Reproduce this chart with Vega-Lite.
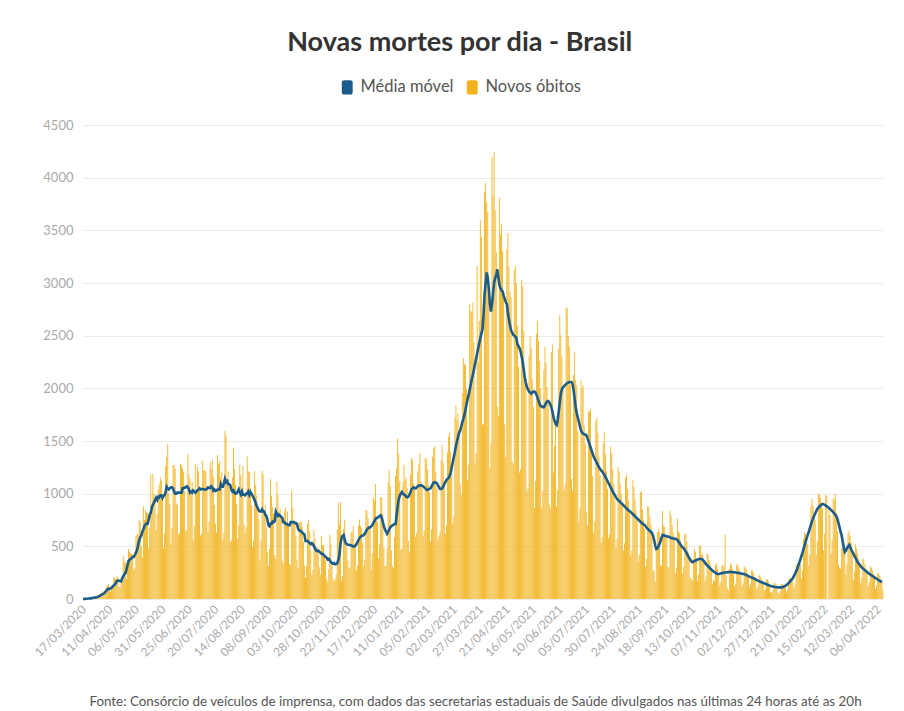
{
"$schema":"https://vega.github.io/schema/vega-lite/v6.json",
"width":800,"height":474,
"padding":{"left":32,"top":29,"right":25,"bottom":8},
"background":"white",
"title":{"text":"Novas mortes por dia - Brasil","font":"Lato","fontSize":27,"fontWeight":"bold","color":"#333333","anchor":"middle","frame":"bounds","offset":22},
"config":{"view":{"stroke":null},"font":"Lato"},
"data":{"values":[
{"d":"2020-03-17","v":1,"m":0},{"d":"2020-03-18","v":3,"m":1},{"d":"2020-03-19","v":3,"m":1},{"d":"2020-03-20","v":4,"m":2},{"d":"2020-03-21","v":7,"m":3},{"d":"2020-03-22","v":7,"m":4},{"d":"2020-03-23","v":9,"m":5},{"d":"2020-03-24","v":12,"m":6},{"d":"2020-03-25","v":11,"m":8},{"d":"2020-03-26","v":20,"m":9},{"d":"2020-03-27","v":15,"m":11},{"d":"2020-03-28","v":22,"m":13},{"d":"2020-03-29","v":22,"m":15},{"d":"2020-03-30","v":23,"m":17},{"d":"2020-03-31","v":42,"m":21},
{"d":"2020-04-01","v":40,"m":25},{"d":"2020-04-02","v":58,"m":31},{"d":"2020-04-03","v":60,"m":36},{"d":"2020-04-04","v":73,"m":44},{"d":"2020-04-05","v":54,"m":49},{"d":"2020-04-06","v":67,"m":54},{"d":"2020-04-07","v":114,"m":67},{"d":"2020-04-08","v":133,"m":78},{"d":"2020-04-09","v":141,"m":90},{"d":"2020-04-10","v":115,"m":96},{"d":"2020-04-11","v":68,"m":95},{"d":"2020-04-12","v":99,"m":101},{"d":"2020-04-13","v":105,"m":106},{"d":"2020-04-14","v":204,"m":119},{"d":"2020-04-15","v":204,"m":129},{"d":"2020-04-16","v":188,"m":137},{"d":"2020-04-17","v":217,"m":151},{"d":"2020-04-18","v":206,"m":171},{"d":"2020-04-19","v":115,"m":173},{"d":"2020-04-20","v":113,"m":174},{"d":"2020-04-21","v":166,"m":172},{"d":"2020-04-22","v":165,"m":168},{"d":"2020-04-23","v":407,"m":196},{"d":"2020-04-24","v":357,"m":216},{"d":"2020-04-25","v":346,"m":235},{"d":"2020-04-26","v":189,"m":245},{"d":"2020-04-27","v":338,"m":277},{"d":"2020-04-28","v":474,"m":321},{"d":"2020-04-29","v":449,"m":361},{"d":"2020-04-30","v":435,"m":372},
{"d":"2020-05-01","v":428,"m":380},{"d":"2020-05-02","v":421,"m":390},{"d":"2020-05-03","v":275,"m":400},{"d":"2020-05-04","v":296,"m":400},{"d":"2020-05-05","v":600,"m":420},{"d":"2020-05-06","v":615,"m":440},{"d":"2020-05-07","v":610,"m":465},{"d":"2020-05-08","v":751,"m":510},{"d":"2020-05-09","v":730,"m":555},{"d":"2020-05-10","v":496,"m":585},{"d":"2020-05-11","v":396,"m":600},{"d":"2020-05-12","v":881,"m":640},{"d":"2020-05-13","v":749,"m":660},{"d":"2020-05-14","v":844,"m":695},{"d":"2020-05-15","v":824,"m":705},{"d":"2020-05-16","v":816,"m":717},{"d":"2020-05-17","v":485,"m":715},{"d":"2020-05-18","v":674,"m":755},{"d":"2020-05-19","v":1179,"m":800},{"d":"2020-05-20","v":888,"m":820},{"d":"2020-05-21","v":1188,"m":870},{"d":"2020-05-22","v":1001,"m":895},{"d":"2020-05-23","v":965,"m":915},{"d":"2020-05-24","v":653,"m":940},{"d":"2020-05-25","v":807,"m":960},{"d":"2020-05-26","v":1039,"m":940},{"d":"2020-05-27","v":1086,"m":970},{"d":"2020-05-28","v":1156,"m":965},{"d":"2020-05-29","v":1124,"m":985},{"d":"2020-05-30","v":956,"m":985},{"d":"2020-05-31","v":480,"m":960},
{"d":"2020-06-01","v":623,"m":980},{"d":"2020-06-02","v":1262,"m":985},{"d":"2020-06-03","v":1349,"m":1020},{"d":"2020-06-04","v":1473,"m":1065},{"d":"2020-06-05","v":1005,"m":1050},{"d":"2020-06-06","v":904,"m":1040},{"d":"2020-06-07","v":525,"m":1050},{"d":"2020-06-08","v":679,"m":1060},{"d":"2020-06-09","v":1272,"m":1060},{"d":"2020-06-10","v":1274,"m":1050},{"d":"2020-06-11","v":1239,"m":1020},{"d":"2020-06-12","v":909,"m":1000},{"d":"2020-06-13","v":892,"m":1000},{"d":"2020-06-14","v":612,"m":1010},{"d":"2020-06-15","v":627,"m":1010},{"d":"2020-06-16","v":1282,"m":1010},{"d":"2020-06-17","v":1269,"m":1010},{"d":"2020-06-18","v":1238,"m":1010},{"d":"2020-06-19","v":1206,"m":1050},{"d":"2020-06-20","v":1022,"m":1050},{"d":"2020-06-21","v":641,"m":1060},{"d":"2020-06-22","v":654,"m":1060},{"d":"2020-06-23","v":1374,"m":1070},{"d":"2020-06-24","v":1185,"m":1060},{"d":"2020-06-25","v":1141,"m":1040},{"d":"2020-06-26","v":990,"m":1010},{"d":"2020-06-27","v":1109,"m":1020},{"d":"2020-06-28","v":552,"m":1010},{"d":"2020-06-29","v":692,"m":1030},{"d":"2020-06-30","v":1280,"m":1020},
{"d":"2020-07-01","v":1038,"m":1010},{"d":"2020-07-02","v":1252,"m":1020},{"d":"2020-07-03","v":1214,"m":1030},{"d":"2020-07-04","v":1071,"m":1040},{"d":"2020-07-05","v":602,"m":1050},{"d":"2020-07-06","v":620,"m":1040},{"d":"2020-07-07","v":1312,"m":1045},{"d":"2020-07-08","v":1223,"m":1045},{"d":"2020-07-09","v":1220,"m":1040},{"d":"2020-07-10","v":1214,"m":1040},{"d":"2020-07-11","v":1071,"m":1040},{"d":"2020-07-12","v":631,"m":1045},{"d":"2020-07-13","v":733,"m":1060},{"d":"2020-07-14","v":1300,"m":1055},{"d":"2020-07-15","v":1233,"m":1055},{"d":"2020-07-16","v":1322,"m":1070},{"d":"2020-07-17","v":1163,"m":1060},{"d":"2020-07-18","v":892,"m":1030},{"d":"2020-07-19","v":716,"m":1040},{"d":"2020-07-20","v":632,"m":1025},{"d":"2020-07-21","v":1367,"m":1030},{"d":"2020-07-22","v":1284,"m":1040},{"d":"2020-07-23","v":1311,"m":1040},{"d":"2020-07-24","v":1156,"m":1040},{"d":"2020-07-25","v":1211,"m":1090},{"d":"2020-07-26","v":555,"m":1065},{"d":"2020-07-27","v":627,"m":1065},{"d":"2020-07-28","v":1595,"m":1100},{"d":"2020-07-29","v":1554,"m":1140},{"d":"2020-07-30","v":1129,"m":1110},{"d":"2020-07-31","v":1212,"m":1120},
{"d":"2020-08-01","v":1088,"m":1090},{"d":"2020-08-02","v":541,"m":1090},{"d":"2020-08-03","v":561,"m":1080},{"d":"2020-08-04","v":1154,"m":1040},{"d":"2020-08-05","v":1437,"m":1020},{"d":"2020-08-06","v":1237,"m":1030},{"d":"2020-08-07","v":1079,"m":1010},{"d":"2020-08-08","v":905,"m":1000},{"d":"2020-08-09","v":572,"m":1005},{"d":"2020-08-10","v":703,"m":1020},{"d":"2020-08-11","v":1274,"m":1040},{"d":"2020-08-12","v":1175,"m":1010},{"d":"2020-08-13","v":1060,"m":990},{"d":"2020-08-14","v":1262,"m":1020},{"d":"2020-08-15","v":709,"m":990},{"d":"2020-08-16","v":620,"m":990},{"d":"2020-08-17","v":684,"m":985},{"d":"2020-08-18","v":1352,"m":1000},{"d":"2020-08-19","v":1212,"m":1000},{"d":"2020-08-20","v":1204,"m":1020},{"d":"2020-08-21","v":1054,"m":990},{"d":"2020-08-22","v":892,"m":1015},{"d":"2020-08-23","v":494,"m":1000},{"d":"2020-08-24","v":555,"m":980},{"d":"2020-08-25","v":1215,"m":960},{"d":"2020-08-26","v":1085,"m":940},{"d":"2020-08-27","v":984,"m":910},{"d":"2020-08-28","v":855,"m":880},{"d":"2020-08-29","v":758,"m":860},{"d":"2020-08-30","v":366,"m":840},{"d":"2020-08-31","v":553,"m":830},
{"d":"2020-09-01","v":1215,"m":830},{"d":"2020-09-02","v":1184,"m":850},{"d":"2020-09-03","v":834,"m":830},{"d":"2020-09-04","v":888,"m":830},{"d":"2020-09-05","v":682,"m":800},{"d":"2020-09-06","v":447,"m":790},{"d":"2020-09-07","v":310,"m":755},{"d":"2020-09-08","v":476,"m":700},{"d":"2020-09-09","v":1136,"m":690},{"d":"2020-09-10","v":983,"m":715},{"d":"2020-09-11","v":874,"m":715},{"d":"2020-09-12","v":814,"m":735},{"d":"2020-09-13","v":415,"m":730},{"d":"2020-09-14","v":381,"m":740},{"d":"2020-09-15","v":1113,"m":830},{"d":"2020-09-16","v":987,"m":810},{"d":"2020-09-17","v":829,"m":790},{"d":"2020-09-18","v":858,"m":800},{"d":"2020-09-19","v":761,"m":790},{"d":"2020-09-20","v":363,"m":780},{"d":"2020-09-21","v":335,"m":770},{"d":"2020-09-22","v":836,"m":730},{"d":"2020-09-23","v":869,"m":730},{"d":"2020-09-24","v":729,"m":715},{"d":"2020-09-25","v":831,"m":715},{"d":"2020-09-26","v":691,"m":705},{"d":"2020-09-27","v":335,"m":700},{"d":"2020-09-28","v":320,"m":700},{"d":"2020-09-29","v":1031,"m":730},{"d":"2020-09-30","v":863,"m":730},
{"d":"2020-10-01","v":729,"m":730},{"d":"2020-10-02","v":728,"m":730},{"d":"2020-10-03","v":599,"m":720},{"d":"2020-10-04","v":366,"m":720},{"d":"2020-10-05","v":293,"m":710},{"d":"2020-10-06","v":735,"m":670},{"d":"2020-10-07","v":734,"m":650},{"d":"2020-10-08","v":731,"m":650},{"d":"2020-10-09","v":683,"m":640},{"d":"2020-10-10","v":543,"m":630},{"d":"2020-10-11","v":318,"m":620},{"d":"2020-10-12","v":201,"m":610},{"d":"2020-10-13","v":309,"m":550},{"d":"2020-10-14","v":713,"m":550},{"d":"2020-10-15","v":754,"m":550},{"d":"2020-10-16","v":641,"m":540},{"d":"2020-10-17","v":461,"m":530},{"d":"2020-10-18","v":230,"m":520},{"d":"2020-10-19","v":275,"m":530},{"d":"2020-10-20","v":658,"m":520},{"d":"2020-10-21","v":571,"m":500},{"d":"2020-10-22","v":496,"m":480},{"d":"2020-10-23","v":492,"m":460},{"d":"2020-10-24","v":432,"m":455},{"d":"2020-10-25","v":301,"m":460},{"d":"2020-10-26","v":231,"m":450},{"d":"2020-10-27","v":597,"m":440},{"d":"2020-10-28","v":510,"m":430},{"d":"2020-10-29","v":513,"m":430},{"d":"2020-10-30","v":426,"m":420},{"d":"2020-10-31","v":369,"m":410},
{"d":"2020-11-01","v":190,"m":400},{"d":"2020-11-02","v":162,"m":390},{"d":"2020-11-03","v":282,"m":375},{"d":"2020-11-04","v":610,"m":380},{"d":"2020-11-05","v":526,"m":365},{"d":"2020-11-06","v":337,"m":350},{"d":"2020-11-07","v":192,"m":340},{"d":"2020-11-08","v":167,"m":335},{"d":"2020-11-09","v":188,"m":340},{"d":"2020-11-10","v":231,"m":330},{"d":"2020-11-11","v":658,"m":332},{"d":"2020-11-12","v":908,"m":340},{"d":"2020-11-13","v":716,"m":370},{"d":"2020-11-14","v":921,"m":420},{"d":"2020-11-15","v":175,"m":520},{"d":"2020-11-16","v":216,"m":580},{"d":"2020-11-17","v":665,"m":600},{"d":"2020-11-18","v":754,"m":608},{"d":"2020-11-19","v":560,"m":560},{"d":"2020-11-20","v":486,"m":530},{"d":"2020-11-21","v":365,"m":520},{"d":"2020-11-22","v":288,"m":515},{"d":"2020-11-23","v":302,"m":515},{"d":"2020-11-24","v":637,"m":513},{"d":"2020-11-25","v":630,"m":510},{"d":"2020-11-26","v":691,"m":505},{"d":"2020-11-27","v":525,"m":500},{"d":"2020-11-28","v":510,"m":500},{"d":"2020-11-29","v":272,"m":505},{"d":"2020-11-30","v":317,"m":520},
{"d":"2020-12-01","v":697,"m":540},{"d":"2020-12-02","v":755,"m":560},{"d":"2020-12-03","v":694,"m":580},{"d":"2020-12-04","v":672,"m":590},{"d":"2020-12-05","v":535,"m":600},{"d":"2020-12-06","v":313,"m":600},{"d":"2020-12-07","v":376,"m":610},{"d":"2020-12-08","v":842,"m":620},{"d":"2020-12-09","v":839,"m":640},{"d":"2020-12-10","v":770,"m":660},{"d":"2020-12-11","v":673,"m":670},{"d":"2020-12-12","v":686,"m":680},{"d":"2020-12-13","v":279,"m":680},{"d":"2020-12-14","v":433,"m":690},{"d":"2020-12-15","v":964,"m":700},{"d":"2020-12-16","v":936,"m":720},{"d":"2020-12-17","v":1092,"m":740},{"d":"2020-12-18","v":764,"m":760},{"d":"2020-12-19","v":728,"m":770},{"d":"2020-12-20","v":382,"m":770},{"d":"2020-12-21","v":523,"m":780},{"d":"2020-12-22","v":968,"m":790},{"d":"2020-12-23","v":963,"m":795},{"d":"2020-12-24","v":806,"m":770},{"d":"2020-12-25","v":484,"m":730},{"d":"2020-12-26","v":313,"m":690},{"d":"2020-12-27","v":316,"m":660},{"d":"2020-12-28","v":482,"m":640},{"d":"2020-12-29","v":1111,"m":620},{"d":"2020-12-30","v":1224,"m":640},{"d":"2020-12-31","v":1074,"m":660},
{"d":"2021-01-01","v":462,"m":680},{"d":"2021-01-02","v":314,"m":690},{"d":"2021-01-03","v":293,"m":700},{"d":"2021-01-04","v":589,"m":705},{"d":"2021-01-05","v":1171,"m":710},{"d":"2021-01-06","v":1242,"m":712},{"d":"2021-01-07","v":1524,"m":800},{"d":"2021-01-08","v":1379,"m":880},{"d":"2021-01-09","v":1119,"m":950},{"d":"2021-01-10","v":469,"m":980},{"d":"2021-01-11","v":480,"m":1000},{"d":"2021-01-12","v":1110,"m":1016},{"d":"2021-01-13","v":1274,"m":1000},{"d":"2021-01-14","v":1131,"m":990},{"d":"2021-01-15","v":1151,"m":985},{"d":"2021-01-16","v":1050,"m":970},{"d":"2021-01-17","v":551,"m":965},{"d":"2021-01-18","v":452,"m":970},{"d":"2021-01-19","v":1183,"m":990},{"d":"2021-01-20","v":1340,"m":1010},{"d":"2021-01-21","v":1316,"m":1040},{"d":"2021-01-22","v":1096,"m":1050},{"d":"2021-01-23","v":1054,"m":1060},{"d":"2021-01-24","v":592,"m":1055},{"d":"2021-01-25","v":627,"m":1050},{"d":"2021-01-26","v":1214,"m":1060},{"d":"2021-01-27","v":1283,"m":1070},{"d":"2021-01-28","v":1386,"m":1075},{"d":"2021-01-29","v":1119,"m":1080},{"d":"2021-01-30","v":1054,"m":1080},{"d":"2021-01-31","v":595,"m":1075},
{"d":"2021-02-01","v":650,"m":1070},{"d":"2021-02-02","v":1340,"m":1060},{"d":"2021-02-03","v":1330,"m":1050},{"d":"2021-02-04","v":1232,"m":1040},{"d":"2021-02-05","v":1080,"m":1035},{"d":"2021-02-06","v":1010,"m":1040},{"d":"2021-02-07","v":540,"m":1045},{"d":"2021-02-08","v":660,"m":1050},{"d":"2021-02-09","v":1350,"m":1070},{"d":"2021-02-10","v":1430,"m":1090},{"d":"2021-02-11","v":1450,"m":1105},{"d":"2021-02-12","v":1200,"m":1110},{"d":"2021-02-13","v":1050,"m":1105},{"d":"2021-02-14","v":560,"m":1100},{"d":"2021-02-15","v":600,"m":1080},{"d":"2021-02-16","v":640,"m":1060},{"d":"2021-02-17","v":1320,"m":1045},{"d":"2021-02-18","v":1460,"m":1045},{"d":"2021-02-19","v":1290,"m":1050},{"d":"2021-02-20","v":1120,"m":1070},{"d":"2021-02-21","v":620,"m":1090},{"d":"2021-02-22","v":700,"m":1110},{"d":"2021-02-23","v":1390,"m":1130},{"d":"2021-02-24","v":1540,"m":1140},{"d":"2021-02-25","v":1580,"m":1150},{"d":"2021-02-26","v":1400,"m":1170},{"d":"2021-02-27","v":1270,"m":1200},{"d":"2021-02-28","v":720,"m":1250},
{"d":"2021-03-01","v":780,"m":1300},{"d":"2021-03-02","v":1726,"m":1350},{"d":"2021-03-03","v":1840,"m":1400},{"d":"2021-03-04","v":1699,"m":1450},{"d":"2021-03-05","v":1760,"m":1500},{"d":"2021-03-06","v":1555,"m":1540},{"d":"2021-03-07","v":1086,"m":1580},{"d":"2021-03-08","v":987,"m":1600},{"d":"2021-03-09","v":1954,"m":1640},{"d":"2021-03-10","v":2286,"m":1680},{"d":"2021-03-11","v":2233,"m":1710},{"d":"2021-03-12","v":2216,"m":1750},{"d":"2021-03-13","v":1997,"m":1800},{"d":"2021-03-14","v":1129,"m":1850},{"d":"2021-03-15","v":1275,"m":1900},{"d":"2021-03-16","v":2798,"m":1940},{"d":"2021-03-17","v":2736,"m":1990},{"d":"2021-03-18","v":2724,"m":2040},{"d":"2021-03-19","v":2815,"m":2090},{"d":"2021-03-20","v":2438,"m":2130},{"d":"2021-03-21","v":1290,"m":2180},{"d":"2021-03-22","v":1383,"m":2230},{"d":"2021-03-23","v":3158,"m":2280},{"d":"2021-03-24","v":2244,"m":2330},{"d":"2021-03-25","v":2639,"m":2380},{"d":"2021-03-26","v":3600,"m":2430},{"d":"2021-03-27","v":3438,"m":2480},{"d":"2021-03-28","v":1656,"m":2520},{"d":"2021-03-29","v":1660,"m":2560},{"d":"2021-03-30","v":3869,"m":2700},{"d":"2021-03-31","v":3950,"m":2900},
{"d":"2021-04-01","v":3769,"m":3000},{"d":"2021-04-02","v":3673,"m":3100},{"d":"2021-04-03","v":2922,"m":3050},{"d":"2021-04-04","v":1240,"m":2950},{"d":"2021-04-05","v":1480,"m":2800},{"d":"2021-04-06","v":4195,"m":2730},{"d":"2021-04-07","v":3829,"m":2800},{"d":"2021-04-08","v":4249,"m":2900},{"d":"2021-04-09","v":3693,"m":3000},{"d":"2021-04-10","v":3293,"m":3050},{"d":"2021-04-11","v":1824,"m":3080},{"d":"2021-04-12","v":1738,"m":3130},{"d":"2021-04-13","v":3808,"m":3050},{"d":"2021-04-14","v":3459,"m":2980},{"d":"2021-04-15","v":3560,"m":2950},{"d":"2021-04-16","v":3305,"m":2930},{"d":"2021-04-17","v":2929,"m":2920},{"d":"2021-04-18","v":1657,"m":2880},{"d":"2021-04-19","v":1347,"m":2850},{"d":"2021-04-20","v":3321,"m":2820},{"d":"2021-04-21","v":3472,"m":2800},{"d":"2021-04-22","v":3157,"m":2720},{"d":"2021-04-23","v":2914,"m":2650},{"d":"2021-04-24","v":2865,"m":2600},{"d":"2021-04-25","v":1305,"m":2550},{"d":"2021-04-26","v":1279,"m":2530},{"d":"2021-04-27","v":3120,"m":2510},{"d":"2021-04-28","v":3163,"m":2500},{"d":"2021-04-29","v":3001,"m":2490},{"d":"2021-04-30","v":2595,"m":2480},
{"d":"2021-05-01","v":2206,"m":2420},{"d":"2021-05-02","v":1202,"m":2400},{"d":"2021-05-03","v":1232,"m":2380},{"d":"2021-05-04","v":3025,"m":2350},{"d":"2021-05-05","v":2966,"m":2300},{"d":"2021-05-06","v":2550,"m":2250},{"d":"2021-05-07","v":2202,"m":2170},{"d":"2021-05-08","v":2087,"m":2100},{"d":"2021-05-09","v":1024,"m":2050},{"d":"2021-05-10","v":1054,"m":2010},{"d":"2021-05-11","v":2311,"m":1990},{"d":"2021-05-12","v":2494,"m":1970},{"d":"2021-05-13","v":2383,"m":1960},{"d":"2021-05-14","v":2087,"m":1950},{"d":"2021-05-15","v":1824,"m":1960},{"d":"2021-05-16","v":865,"m":1970},{"d":"2021-05-17","v":1123,"m":1970},{"d":"2021-05-18","v":2517,"m":1960},{"d":"2021-05-19","v":2641,"m":1940},{"d":"2021-05-20","v":2451,"m":1910},{"d":"2021-05-21","v":2257,"m":1880},{"d":"2021-05-22","v":1997,"m":1850},{"d":"2021-05-23","v":860,"m":1830},{"d":"2021-05-24","v":1025,"m":1830},{"d":"2021-05-25","v":2173,"m":1820},{"d":"2021-05-26","v":2393,"m":1820},{"d":"2021-05-27","v":2245,"m":1840},{"d":"2021-05-28","v":2012,"m":1860},{"d":"2021-05-29","v":1867,"m":1875},{"d":"2021-05-30","v":900,"m":1880},{"d":"2021-05-31","v":860,"m":1870},
{"d":"2021-06-01","v":2346,"m":1850},{"d":"2021-06-02","v":2417,"m":1820},{"d":"2021-06-03","v":1202,"m":1780},{"d":"2021-06-04","v":1454,"m":1730},{"d":"2021-06-05","v":1689,"m":1690},{"d":"2021-06-06","v":878,"m":1660},{"d":"2021-06-07","v":1037,"m":1650},{"d":"2021-06-08","v":2378,"m":1700},{"d":"2021-06-09","v":2693,"m":1780},{"d":"2021-06-10","v":2504,"m":1870},{"d":"2021-06-11","v":2300,"m":1950},{"d":"2021-06-12","v":2000,"m":1994},{"d":"2021-06-13","v":1037,"m":2010},{"d":"2021-06-14","v":1090,"m":2020},{"d":"2021-06-15","v":2769,"m":2030},{"d":"2021-06-16","v":2760,"m":2040},{"d":"2021-06-17","v":2494,"m":2050},{"d":"2021-06-18","v":2400,"m":2055},{"d":"2021-06-19","v":2036,"m":2060},{"d":"2021-06-20","v":1139,"m":2060},{"d":"2021-06-21","v":1025,"m":2060},{"d":"2021-06-22","v":2127,"m":2040},{"d":"2021-06-23","v":2343,"m":1980},{"d":"2021-06-24","v":2081,"m":1900},{"d":"2021-06-25","v":2032,"m":1820},{"d":"2021-06-26","v":1593,"m":1760},{"d":"2021-06-27","v":739,"m":1720},{"d":"2021-06-28","v":862,"m":1680},{"d":"2021-06-29","v":2081,"m":1640},{"d":"2021-06-30","v":2001,"m":1600},
{"d":"2021-07-01","v":2029,"m":1580},{"d":"2021-07-02","v":1648,"m":1570},{"d":"2021-07-03","v":1476,"m":1565},{"d":"2021-07-04","v":830,"m":1560},{"d":"2021-07-05","v":695,"m":1557},{"d":"2021-07-06","v":1780,"m":1530},{"d":"2021-07-07","v":1780,"m":1500},{"d":"2021-07-08","v":1803,"m":1470},{"d":"2021-07-09","v":1450,"m":1440},{"d":"2021-07-10","v":1170,"m":1410},{"d":"2021-07-11","v":630,"m":1380},{"d":"2021-07-12","v":735,"m":1350},{"d":"2021-07-13","v":1690,"m":1330},{"d":"2021-07-14","v":1720,"m":1310},{"d":"2021-07-15","v":1574,"m":1290},{"d":"2021-07-16","v":1350,"m":1270},{"d":"2021-07-17","v":1177,"m":1250},{"d":"2021-07-18","v":535,"m":1235},{"d":"2021-07-19","v":589,"m":1220},{"d":"2021-07-20","v":1480,"m":1210},{"d":"2021-07-21","v":1580,"m":1195},{"d":"2021-07-22","v":1380,"m":1178},{"d":"2021-07-23","v":1214,"m":1160},{"d":"2021-07-24","v":1047,"m":1140},{"d":"2021-07-25","v":578,"m":1120},{"d":"2021-07-26","v":614,"m":1100},{"d":"2021-07-27","v":1448,"m":1080},{"d":"2021-07-28","v":1382,"m":1060},{"d":"2021-07-29","v":1231,"m":1040},{"d":"2021-07-30","v":1089,"m":1020},{"d":"2021-07-31","v":940,"m":1000},
{"d":"2021-08-01","v":490,"m":985},{"d":"2021-08-02","v":570,"m":965},{"d":"2021-08-03","v":1252,"m":950},{"d":"2021-08-04","v":1210,"m":940},{"d":"2021-08-05","v":1096,"m":930},{"d":"2021-08-06","v":1000,"m":920},{"d":"2021-08-07","v":890,"m":910},{"d":"2021-08-08","v":464,"m":900},{"d":"2021-08-09","v":530,"m":890},{"d":"2021-08-10","v":1148,"m":880},{"d":"2021-08-11","v":1180,"m":870},{"d":"2021-08-12","v":1044,"m":860},{"d":"2021-08-13","v":933,"m":850},{"d":"2021-08-14","v":818,"m":840},{"d":"2021-08-15","v":416,"m":832},{"d":"2021-08-16","v":460,"m":826},{"d":"2021-08-17","v":1130,"m":815},{"d":"2021-08-18","v":1064,"m":805},{"d":"2021-08-19","v":944,"m":795},{"d":"2021-08-20","v":838,"m":785},{"d":"2021-08-21","v":745,"m":775},{"d":"2021-08-22","v":355,"m":765},{"d":"2021-08-23","v":420,"m":755},{"d":"2021-08-24","v":1016,"m":745},{"d":"2021-08-25","v":1020,"m":735},{"d":"2021-08-26","v":853,"m":725},{"d":"2021-08-27","v":746,"m":715},{"d":"2021-08-28","v":665,"m":708},{"d":"2021-08-29","v":306,"m":703},{"d":"2021-08-30","v":380,"m":690},{"d":"2021-08-31","v":882,"m":675},
{"d":"2021-09-01","v":870,"m":665},{"d":"2021-09-02","v":780,"m":655},{"d":"2021-09-03","v":712,"m":645},{"d":"2021-09-04","v":604,"m":640},{"d":"2021-09-05","v":274,"m":625},{"d":"2021-09-06","v":264,"m":600},{"d":"2021-09-07","v":161,"m":560},{"d":"2021-09-08","v":470,"m":510},{"d":"2021-09-09","v":635,"m":475},{"d":"2021-09-10","v":670,"m":480},{"d":"2021-09-11","v":636,"m":500},{"d":"2021-09-12","v":316,"m":520},{"d":"2021-09-13","v":317,"m":550},{"d":"2021-09-14","v":835,"m":580},{"d":"2021-09-15","v":695,"m":608},{"d":"2021-09-16","v":683,"m":605},{"d":"2021-09-17","v":602,"m":600},{"d":"2021-09-18","v":584,"m":598},{"d":"2021-09-19","v":306,"m":595},{"d":"2021-09-20","v":300,"m":592},{"d":"2021-09-21","v":839,"m":590},{"d":"2021-09-22","v":796,"m":585},{"d":"2021-09-23","v":699,"m":580},{"d":"2021-09-24","v":631,"m":578},{"d":"2021-09-25","v":559,"m":575},{"d":"2021-09-26","v":242,"m":573},{"d":"2021-09-27","v":300,"m":571},{"d":"2021-09-28","v":763,"m":570},{"d":"2021-09-29","v":643,"m":560},{"d":"2021-09-30","v":627,"m":545},
{"d":"2021-10-01","v":557,"m":530},{"d":"2021-10-02","v":490,"m":515},{"d":"2021-10-03","v":245,"m":500},{"d":"2021-10-04","v":303,"m":490},{"d":"2021-10-05","v":615,"m":480},{"d":"2021-10-06","v":617,"m":465},{"d":"2021-10-07","v":547,"m":450},{"d":"2021-10-08","v":451,"m":430},{"d":"2021-10-09","v":388,"m":410},{"d":"2021-10-10","v":199,"m":390},{"d":"2021-10-11","v":200,"m":375},{"d":"2021-10-12","v":176,"m":360},{"d":"2021-10-13","v":383,"m":350},{"d":"2021-10-14","v":478,"m":355},{"d":"2021-10-15","v":448,"m":360},{"d":"2021-10-16","v":381,"m":365},{"d":"2021-10-17","v":172,"m":370},{"d":"2021-10-18","v":236,"m":375},{"d":"2021-10-19","v":510,"m":378},{"d":"2021-10-20","v":502,"m":380},{"d":"2021-10-21","v":433,"m":382},{"d":"2021-10-22","v":415,"m":380},{"d":"2021-10-23","v":347,"m":370},{"d":"2021-10-24","v":165,"m":360},{"d":"2021-10-25","v":217,"m":345},{"d":"2021-10-26","v":430,"m":330},{"d":"2021-10-27","v":421,"m":320},{"d":"2021-10-28","v":370,"m":310},{"d":"2021-10-29","v":324,"m":300},{"d":"2021-10-30","v":270,"m":290},{"d":"2021-10-31","v":143,"m":280},
{"d":"2021-11-01","v":182,"m":270},{"d":"2021-11-02","v":170,"m":262},{"d":"2021-11-03","v":320,"m":255},{"d":"2021-11-04","v":336,"m":248},{"d":"2021-11-05","v":285,"m":242},{"d":"2021-11-06","v":230,"m":237},{"d":"2021-11-07","v":130,"m":238},{"d":"2021-11-08","v":160,"m":240},{"d":"2021-11-09","v":315,"m":243},{"d":"2021-11-10","v":325,"m":246},{"d":"2021-11-11","v":302,"m":248},{"d":"2021-11-12","v":610,"m":250},{"d":"2021-11-13","v":220,"m":252},{"d":"2021-11-14","v":110,"m":253},{"d":"2021-11-15","v":80,"m":254},{"d":"2021-11-16","v":290,"m":255},{"d":"2021-11-17","v":340,"m":256},{"d":"2021-11-18","v":320,"m":256},{"d":"2021-11-19","v":280,"m":256},{"d":"2021-11-20","v":240,"m":255},{"d":"2021-11-21","v":120,"m":254},{"d":"2021-11-22","v":150,"m":253},{"d":"2021-11-23","v":330,"m":252},{"d":"2021-11-24","v":325,"m":250},{"d":"2021-11-25","v":300,"m":248},{"d":"2021-11-26","v":265,"m":246},{"d":"2021-11-27","v":235,"m":244},{"d":"2021-11-28","v":120,"m":242},{"d":"2021-11-29","v":150,"m":240},{"d":"2021-11-30","v":310,"m":238},
{"d":"2021-12-01","v":300,"m":237},{"d":"2021-12-02","v":285,"m":232},{"d":"2021-12-03","v":245,"m":227},{"d":"2021-12-04","v":210,"m":222},{"d":"2021-12-05","v":110,"m":217},{"d":"2021-12-06","v":140,"m":212},{"d":"2021-12-07","v":270,"m":208},{"d":"2021-12-08","v":270,"m":204},{"d":"2021-12-09","v":245,"m":200},{"d":"2021-12-10","v":205,"m":195},{"d":"2021-12-11","v":180,"m":190},{"d":"2021-12-12","v":95,"m":185},{"d":"2021-12-13","v":120,"m":180},{"d":"2021-12-14","v":225,"m":175},{"d":"2021-12-15","v":225,"m":170},{"d":"2021-12-16","v":200,"m":165},{"d":"2021-12-17","v":170,"m":161},{"d":"2021-12-18","v":150,"m":157},{"d":"2021-12-19","v":80,"m":152},{"d":"2021-12-20","v":100,"m":148},{"d":"2021-12-21","v":190,"m":144},{"d":"2021-12-22","v":185,"m":140},{"d":"2021-12-23","v":165,"m":135},{"d":"2021-12-24","v":140,"m":130},{"d":"2021-12-25","v":70,"m":127},{"d":"2021-12-26","v":60,"m":124},{"d":"2021-12-27","v":80,"m":121},{"d":"2021-12-28","v":155,"m":118},{"d":"2021-12-29","v":150,"m":116},{"d":"2021-12-30","v":140,"m":114},{"d":"2021-12-31","v":110,"m":112},
{"d":"2022-01-01","v":60,"m":111},{"d":"2022-01-02","v":55,"m":110},{"d":"2022-01-03","v":75,"m":110},{"d":"2022-01-04","v":145,"m":110},{"d":"2022-01-05","v":145,"m":110},{"d":"2022-01-06","v":135,"m":112},{"d":"2022-01-07","v":125,"m":116},{"d":"2022-01-08","v":110,"m":120},{"d":"2022-01-09","v":65,"m":126},{"d":"2022-01-10","v":90,"m":133},{"d":"2022-01-11","v":185,"m":142},{"d":"2022-01-12","v":200,"m":152},{"d":"2022-01-13","v":195,"m":163},{"d":"2022-01-14","v":185,"m":175},{"d":"2022-01-15","v":175,"m":187},{"d":"2022-01-16","v":105,"m":200},{"d":"2022-01-17","v":145,"m":220},{"d":"2022-01-18","v":320,"m":240},{"d":"2022-01-19","v":345,"m":262},{"d":"2022-01-20","v":340,"m":285},{"d":"2022-01-21","v":330,"m":315},{"d":"2022-01-22","v":330,"m":345},{"d":"2022-01-23","v":195,"m":375},{"d":"2022-01-24","v":270,"m":408},{"d":"2022-01-25","v":570,"m":440},{"d":"2022-01-26","v":630,"m":475},{"d":"2022-01-27","v":620,"m":510},{"d":"2022-01-28","v":570,"m":545},{"d":"2022-01-29","v":520,"m":578},{"d":"2022-01-30","v":315,"m":608},{"d":"2022-01-31","v":420,"m":640},
{"d":"2022-02-01","v":880,"m":672},{"d":"2022-02-02","v":950,"m":705},{"d":"2022-02-03","v":890,"m":740},{"d":"2022-02-04","v":800,"m":765},{"d":"2022-02-05","v":750,"m":790},{"d":"2022-02-06","v":420,"m":812},{"d":"2022-02-07","v":550,"m":835},{"d":"2022-02-08","v":1000,"m":855},{"d":"2022-02-09","v":990,"m":868},{"d":"2022-02-10","v":960,"m":878},{"d":"2022-02-11","v":900,"m":888},{"d":"2022-02-12","v":860,"m":896},{"d":"2022-02-13","v":460,"m":902},{"d":"2022-02-14","v":620,"m":898},{"d":"2022-02-15","v":990,"m":893},{"d":"2022-02-16","v":980,"m":887},{"d":"2022-02-17","v":0,"m":880},{"d":"2022-02-18","v":880,"m":872},{"d":"2022-02-19","v":800,"m":864},{"d":"2022-02-20","v":430,"m":855},{"d":"2022-02-21","v":560,"m":845},{"d":"2022-02-22","v":960,"m":835},{"d":"2022-02-23","v":940,"m":825},{"d":"2022-02-24","v":1000,"m":812},{"d":"2022-02-25","v":820,"m":800},{"d":"2022-02-26","v":640,"m":785},{"d":"2022-02-27","v":330,"m":760},{"d":"2022-02-28","v":300,"m":720},
{"d":"2022-03-01","v":290,"m":680},{"d":"2022-03-02","v":480,"m":640},{"d":"2022-03-03","v":620,"m":600},{"d":"2022-03-04","v":560,"m":540},{"d":"2022-03-05","v":470,"m":490},{"d":"2022-03-06","v":230,"m":446},{"d":"2022-03-07","v":330,"m":460},{"d":"2022-03-08","v":620,"m":480},{"d":"2022-03-09","v":650,"m":500},{"d":"2022-03-10","v":600,"m":513},{"d":"2022-03-11","v":540,"m":495},{"d":"2022-03-12","v":430,"m":470},{"d":"2022-03-13","v":180,"m":450},{"d":"2022-03-14","v":260,"m":430},{"d":"2022-03-15","v":520,"m":410},{"d":"2022-03-16","v":480,"m":390},{"d":"2022-03-17","v":430,"m":370},{"d":"2022-03-18","v":380,"m":351},{"d":"2022-03-19","v":320,"m":338},{"d":"2022-03-20","v":150,"m":325},{"d":"2022-03-21","v":200,"m":312},{"d":"2022-03-22","v":390,"m":300},{"d":"2022-03-23","v":370,"m":290},{"d":"2022-03-24","v":330,"m":281},{"d":"2022-03-25","v":290,"m":272},{"d":"2022-03-26","v":250,"m":264},{"d":"2022-03-27","v":120,"m":256},{"d":"2022-03-28","v":160,"m":248},{"d":"2022-03-29","v":310,"m":240},{"d":"2022-03-30","v":300,"m":232},{"d":"2022-03-31","v":270,"m":225},
{"d":"2022-04-01","v":240,"m":218},{"d":"2022-04-02","v":210,"m":212},{"d":"2022-04-03","v":95,"m":205},{"d":"2022-04-04","v":130,"m":198},{"d":"2022-04-05","v":250,"m":192},{"d":"2022-04-06","v":240,"m":185},{"d":"2022-04-07","v":220,"m":178},{"d":"2022-04-08","v":190,"m":171},{"d":"2022-04-09","v":170,"m":166},{"d":"2022-04-10","v":80,"m":161}
]},
"encoding":{
 "x":{"field":"d","type":"temporal","timeUnit":"utcyearmonthdate",
  "scale":{"domain":[{"year":2020,"month":3,"date":17,"utc":true},{"year":2022,"month":4,"date":11,"utc":true}]},
  "axis":{"title":"Fonte: Consórcio de veículos de imprensa, com dados das secretarias estaduais de Saúde divulgados nas últimas 24 horas até as 20h",
   "titleFont":"Lato","titleFontSize":13.4,"titleFontWeight":"normal","titleColor":"#555555","titlePadding":36,"titleAnchor":"middle","titleX":392,
   "format":"%d/%m/%Y","labelAngle":-45,"labelAlign":"right","labelBaseline":"middle","labelFont":"Lato","labelFontSize":12,"labelColor":"#aaaaaa","labelPadding":8,
   "grid":false,"domain":false,"ticks":false,"labelOverlap":false,"labelBound":false,"labelFlush":false,
   "values":[
    {"year":2020,"month":3,"date":17,"hours":12,"utc":true},{"year":2020,"month":4,"date":11,"hours":12,"utc":true},{"year":2020,"month":5,"date":6,"hours":12,"utc":true},{"year":2020,"month":5,"date":31,"hours":12,"utc":true},{"year":2020,"month":6,"date":25,"hours":12,"utc":true},{"year":2020,"month":7,"date":20,"hours":12,"utc":true},{"year":2020,"month":8,"date":14,"hours":12,"utc":true},{"year":2020,"month":9,"date":8,"hours":12,"utc":true},{"year":2020,"month":10,"date":3,"hours":12,"utc":true},{"year":2020,"month":10,"date":28,"hours":12,"utc":true},{"year":2020,"month":11,"date":22,"hours":12,"utc":true},{"year":2020,"month":12,"date":17,"hours":12,"utc":true},
    {"year":2021,"month":1,"date":11,"hours":12,"utc":true},{"year":2021,"month":2,"date":5,"hours":12,"utc":true},{"year":2021,"month":3,"date":2,"hours":12,"utc":true},{"year":2021,"month":3,"date":27,"hours":12,"utc":true},{"year":2021,"month":4,"date":21,"hours":12,"utc":true},{"year":2021,"month":5,"date":16,"hours":12,"utc":true},{"year":2021,"month":6,"date":10,"hours":12,"utc":true},{"year":2021,"month":7,"date":5,"hours":12,"utc":true},{"year":2021,"month":7,"date":30,"hours":12,"utc":true},{"year":2021,"month":8,"date":24,"hours":12,"utc":true},{"year":2021,"month":9,"date":18,"hours":12,"utc":true},{"year":2021,"month":10,"date":13,"hours":12,"utc":true},{"year":2021,"month":11,"date":7,"hours":12,"utc":true},{"year":2021,"month":12,"date":2,"hours":12,"utc":true},{"year":2021,"month":12,"date":27,"hours":12,"utc":true},
    {"year":2022,"month":1,"date":21,"hours":12,"utc":true},{"year":2022,"month":2,"date":15,"hours":12,"utc":true},{"year":2022,"month":3,"date":12,"hours":12,"utc":true},{"year":2022,"month":4,"date":6,"hours":12,"utc":true}
   ]}}
},
"layer":[
 {"mark":{"type":"bar","opacity":1,"binSpacing":0.2},
  "encoding":{
   "y":{"field":"v","type":"quantitative","scale":{"domain":[0,4500]},
    "axis":{"title":null,"values":[0,500,1000,1500,2000,2500,3000,3500,4000,4500],"format":"d","labelFont":"Lato","labelFontSize":13,"labelColor":"#aaaaaa","labelPadding":10,"grid":true,"gridColor":"#ebebeb","domain":false,"ticks":false}},
   "color":{"datum":"Novos óbitos","type":"nominal",
    "scale":{"domain":["Média móvel","Novos óbitos"],"range":["#1b5c8a","#f2b31c"]},
    "legend":{"title":null,"orient":"none","legendX":256,"legendY":-46,"direction":"horizontal","symbolType":"M-0.45,-1H0.45A0.3,0.3 0 0 1 0.75,-0.7V0.7A0.3,0.3 0 0 1 0.45,1H-0.45A0.3,0.3 0 0 1 -0.75,0.7V-0.7A0.3,0.3 0 0 1 -0.45,-1Z","symbolSize":210,"symbolStrokeWidth":0,"labelFont":"Lato","labelFontSize":16.5,"labelColor":"#555555","columnPadding":10,"labelOffset":5}}}},
 {"mark":{"type":"line","color":"#1b5c8a","strokeWidth":2.6,"interpolate":"linear"},
  "encoding":{"y":{"field":"m","type":"quantitative"}}}
]
}
